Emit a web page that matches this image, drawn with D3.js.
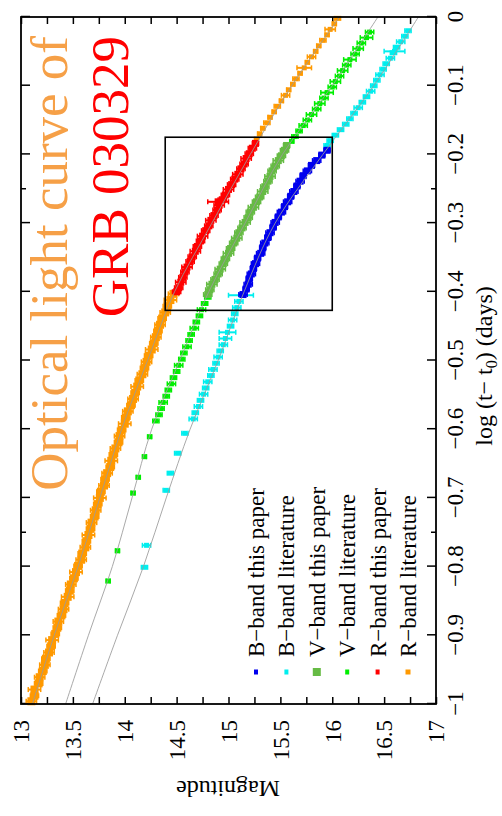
<!DOCTYPE html>
<html>
<head>
<meta charset="utf-8">
<script src="https://cdn.jsdelivr.net/npm/d3@7"></script>
<style>
  body { margin: 0; background: #fff; }
  svg { display: block; }
</style>
</head>
<body>
<svg id="chart" width="502" height="816"></svg>
<script>
// Afterglow photometry of GRB 030329: [log(t - t0) in days, magnitude, magnitude error]
const bPaper = [[-0.194,15.95,0.03],[-0.201,15.90,0.03],[-0.209,15.85,0.04],[-0.216,15.80,0.03],[-0.224,15.76,0.04],[-0.231,15.72,0.03],[-0.239,15.69,0.04],[-0.246,15.66,0.03],[-0.254,15.63,0.04],[-0.261,15.60,0.03],[-0.269,15.57,0.04],[-0.276,15.54,0.03],[-0.284,15.51,0.04],[-0.291,15.48,0.03],[-0.299,15.45,0.04],[-0.306,15.43,0.03],[-0.314,15.40,0.04],[-0.321,15.38,0.03],[-0.329,15.35,0.04],[-0.336,15.33,0.03],[-0.344,15.31,0.04],[-0.351,15.28,0.03],[-0.359,15.26,0.04],[-0.366,15.24,0.03],[-0.374,15.22,0.04],[-0.381,15.20,0.03],[-0.389,15.19,0.04],[-0.396,15.17,0.03],[-0.404,15.14,0.04]];

const bLit = [[-0.020,16.73,0.03],[-0.028,16.70,0.03],[-0.036,16.66,0.04],[-0.044,16.62,0.03],[-0.050,16.60,0.10],[-0.052,16.59,0.03],[-0.060,16.56,0.04],[-0.068,16.52,0.03],[-0.076,16.49,0.03],[-0.084,16.46,0.04],[-0.092,16.43,0.03],[-0.100,16.40,0.03],[-0.108,16.37,0.04],[-0.116,16.33,0.03],[-0.124,16.29,0.03],[-0.132,16.25,0.04],[-0.140,16.21,0.03],[-0.148,16.17,0.03],[-0.156,16.13,0.03],[-0.164,16.08,0.03],[-0.172,16.03,0.03],[-0.180,15.98,0.03],[-0.187,15.95,0.03],
  [-0.405,15.12,0.12],[-0.414,15.10,0.04],[-0.423,15.08,0.04],[-0.432,15.06,0.03],[-0.441,15.04,0.04],[-0.450,15.02,0.03],[-0.459,14.99,0.08],[-0.468,14.97,0.06],[-0.477,14.95,0.04],[-0.486,14.92,0.03],[-0.495,14.90,0.04],[-0.504,14.88,0.03],[-0.513,14.85,0.04],[-0.522,14.83,0.03],[-0.531,14.80,0.04],[-0.540,14.78,0.03],[-0.549,14.76,0.04],[-0.558,14.73,0.03],[-0.567,14.71,0.04],[-0.576,14.68,0.03],[-0.585,14.66,0.04],[-0.606,14.58,0.03],[-0.635,14.51,0.03],[-0.664,14.44,0.03],[-0.689,14.40,0.03],[-0.769,14.21,0.04],[-0.801,14.19,0.03]];

const vPaper = [[-0.187,15.56,0.03],[-0.194,15.54,0.04],[-0.202,15.51,0.04],[-0.209,15.48,0.05],[-0.217,15.45,0.04],[-0.224,15.42,0.04],[-0.232,15.40,0.05],[-0.239,15.38,0.04],[-0.247,15.35,0.04],[-0.254,15.33,0.05],[-0.262,15.30,0.04],[-0.269,15.27,0.04],[-0.277,15.24,0.05],[-0.284,15.21,0.04],[-0.292,15.19,0.04],[-0.299,15.16,0.05],[-0.307,15.13,0.04],[-0.314,15.10,0.04],[-0.322,15.08,0.05],[-0.329,15.05,0.04],[-0.337,15.02,0.04],[-0.344,15.00,0.05],[-0.352,14.97,0.04],[-0.359,14.95,0.04],[-0.367,14.92,0.05],[-0.374,14.90,0.04],[-0.382,14.87,0.04],[-0.389,14.84,0.05],[-0.397,14.82,0.04],[-0.404,14.80,0.04]];

const vLit = [[-0.022,16.36,0.04],[-0.030,16.33,0.06],[-0.038,16.28,0.04],[-0.046,16.25,0.05],[-0.054,16.22,0.04],[-0.062,16.17,0.06],[-0.070,16.14,0.04],[-0.078,16.10,0.05],[-0.086,16.07,0.04],[-0.094,16.03,0.05],[-0.102,16.00,0.04],[-0.110,15.95,0.06],[-0.118,15.92,0.04],[-0.126,15.88,0.05],[-0.134,15.85,0.04],[-0.142,15.80,0.05],[-0.150,15.76,0.04],[-0.158,15.72,0.04],[-0.166,15.68,0.03],[-0.174,15.64,0.03],[-0.181,15.61,0.02],
  [-0.408,14.80,0.03],[-0.417,14.77,0.03],[-0.426,14.74,0.04],[-0.435,14.72,0.03],[-0.444,14.69,0.03],[-0.453,14.67,0.04],[-0.462,14.64,0.03],[-0.471,14.62,0.03],[-0.480,14.60,0.04],[-0.489,14.57,0.03],[-0.498,14.55,0.03],[-0.507,14.52,0.04],[-0.516,14.50,0.03],[-0.525,14.47,0.03],[-0.534,14.45,0.04],[-0.543,14.42,0.03],[-0.552,14.40,0.03],[-0.561,14.37,0.04],[-0.570,14.35,0.03],[-0.579,14.33,0.03],[-0.588,14.30,0.03],[-0.611,14.24,0.02],[-0.640,14.19,0.02],[-0.670,14.13,0.02],[-0.693,14.08,0.02],[-0.777,13.93,0.02],[-0.821,13.84,0.02]];

const rPaper = [[-0.184,15.26,0.03],[-0.191,15.23,0.04],[-0.199,15.20,0.04],[-0.206,15.17,0.05],[-0.214,15.15,0.04],[-0.221,15.12,0.04],[-0.229,15.09,0.05],[-0.236,15.06,0.04],[-0.244,15.03,0.04],[-0.251,15.00,0.05],[-0.259,14.97,0.04],[-0.266,14.94,0.04],[-0.269,14.90,0.10],[-0.274,14.91,0.05],[-0.281,14.89,0.04],[-0.289,14.86,0.04],[-0.296,14.83,0.05],[-0.304,14.81,0.04],[-0.311,14.78,0.04],[-0.319,14.75,0.05],[-0.326,14.73,0.04],[-0.334,14.70,0.04],[-0.341,14.68,0.05],[-0.349,14.65,0.04],[-0.356,14.63,0.04],[-0.364,14.60,0.05],[-0.371,14.58,0.04],[-0.379,14.56,0.04],[-0.386,14.54,0.05],[-0.394,14.52,0.04],[-0.400,14.50,0.04]];

// R-band literature, early (sparse) and late (dense) parts
const rLitEarly = [[-0.002,16.05,0.03],[-0.010,16.02,0.02],[-0.018,15.98,0.05],[-0.026,15.95,0.02],[-0.034,15.91,0.03],[-0.042,15.87,0.02],[-0.050,15.84,0.02],[-0.058,15.80,0.04],[-0.066,15.76,0.02],[-0.074,15.73,0.07],[-0.082,15.69,0.02],[-0.090,15.65,0.03],[-0.098,15.62,0.02],[-0.106,15.58,0.02],[-0.114,15.55,0.04],[-0.122,15.51,0.02],[-0.130,15.47,0.03],[-0.138,15.44,0.02],[-0.146,15.40,0.02],[-0.154,15.37,0.03],[-0.162,15.33,0.02],[-0.170,15.30,0.02],[-0.178,15.27,0.02]];
const rLitLate = [[-0.996,13.10,0.05],[-0.988,13.13,0.04],[-0.979,13.13,0.06],[-0.970,13.17,0.04],[-0.961,13.18,0.05],[-0.952,13.21,0.04],[-0.943,13.23,0.05],[-0.934,13.24,0.04],[-0.925,13.27,0.05],[-0.916,13.29,0.04],[-0.907,13.30,0.06],[-0.898,13.33,0.04],[-0.889,13.35,0.04],[-0.880,13.36,0.05],[-0.871,13.39,0.04],[-0.862,13.41,0.05],[-0.853,13.42,0.04],[-0.844,13.45,0.06],[-0.835,13.47,0.04],[-0.826,13.48,0.05],[-0.817,13.51,0.04],[-0.808,13.53,0.06],[-0.799,13.55,0.04],[-0.790,13.58,0.05],[-0.781,13.59,0.04],[-0.772,13.62,0.05],[-0.763,13.63,0.04],[-0.754,13.65,0.06],[-0.745,13.67,0.04],[-0.736,13.68,0.05],[-0.727,13.71,0.04],[-0.718,13.72,0.05],[-0.709,13.74,0.04],[-0.700,13.76,0.06],[-0.691,13.77,0.04],[-0.682,13.80,0.05],[-0.673,13.81,0.04],[-0.664,13.83,0.05],[-0.655,13.86,0.04],[-0.646,13.87,0.06],[-0.637,13.89,0.04],[-0.628,13.91,0.05],[-0.619,13.94,0.04],[-0.610,13.95,0.05],[-0.601,13.97,0.04],[-0.592,14.00,0.06],[-0.583,14.01,0.04],[-0.574,14.03,0.05],[-0.565,14.06,0.04],[-0.556,14.08,0.05],[-0.547,14.10,0.04],[-0.538,14.12,0.06],[-0.529,14.14,0.04],[-0.520,14.17,0.05],[-0.511,14.19,0.04],[-0.502,14.21,0.05],[-0.493,14.23,0.04],[-0.484,14.26,0.06],[-0.475,14.28,0.04],[-0.466,14.30,0.05],[-0.457,14.32,0.04],[-0.448,14.34,0.05],[-0.439,14.36,0.04],[-0.430,14.39,0.05],[-0.421,14.41,0.04],[-0.412,14.44,0.06],[-0.403,14.47,0.05]];

// Power-law fits, one per band: [log(t - t0), magnitude]
const fitB = [[-1,13.69],[-0.9,13.93],[-0.8,14.18],[-0.7,14.40],[-0.6,14.63],[-0.5,14.90],[-0.4,15.15],[-0.3,15.45],[-0.2,15.91],[-0.1,16.40],[0,16.83]];
const fitV = [[-1,13.43],[-0.9,13.65],[-0.8,13.88],[-0.7,14.07],[-0.6,14.26],[-0.5,14.53],[-0.4,14.81],[-0.3,15.16],[-0.2,15.52],[-0.1,16.00],[0,16.44]];
const fitR = [[-1,13.11],[-0.9,13.32],[-0.8,13.55],[-0.7,13.76],[-0.6,13.97],[-0.5,14.22],[-0.4,14.48],[-0.3,14.84],[-0.2,15.21],[-0.1,15.61],[0,16.07]];

// Window covered by the new observations
const zoomLog = [-0.427, -0.175];
const zoomMag = [14.39, 16.0];

const logTicks = [0,-0.1,-0.2,-0.3,-0.4,-0.5,-0.6,-0.7,-0.8,-0.9,-1];
const logMinorTicks = [-0.25,-0.75];
const magTicks = [13,13.25,13.5,13.75,14,14.25,14.5,14.75,15,15.25,15.5,15.75,16,16.25,16.5,16.75,17];

const legendLabels = ["B\u2212band this paper","B\u2212band literature","V\u2212band this paper","V\u2212band literature","R\u2212band this paper","R\u2212band literature"];
const titleLines = ["Optical light curve of","GRB 030329"];

// ---------------------------------------------------------------
const SERIF = "'Liberation Serif','Times New Roman',Times,serif";
const W = 816; // width of the unrotated figure; the page shows it turned a quarter turn
const svg = d3.select("#chart");
const g = svg.append("g").attr("transform", `translate(0,${W}) rotate(-90)`);

const x = d3.scaleLinear().domain([-1, 0]).range([112, 799]);
const y = d3.scaleLinear().domain([13, 17]).range([21, 436]);

function styleAxis(sel) {
  sel.select(".domain").remove();
  sel.selectAll(".tick line").attr("stroke", "#000").attr("stroke-width", 1.5);
  sel.selectAll("text").attr("fill", "#000").style("font-family", SERIF).style("font-size", "23px");
}

// bottom axis: log time
const axB = g.append("g").attr("transform", "translate(0,436)")
  .call(d3.axisBottom(x).tickValues(logTicks).tickSizeInner(-9).tickSizeOuter(0).tickFormat(d3.format("~g")));
styleAxis(axB);
axB.selectAll("text").attr("y", 27).attr("dy", null);

const axT = g.append("g").attr("transform", "translate(0,21)")
  .call(d3.axisTop(x).tickValues(logTicks).tickSizeInner(-9).tickSizeOuter(0).tickFormat(""));
styleAxis(axT);

// minor log ticks on both edges
g.append("g").selectAll("line").data(logMinorTicks).join("line")
  .attr("x1", d => x(d)).attr("x2", d => x(d)).attr("y1", 436).attr("y2", 431)
  .attr("stroke", "#000").attr("stroke-width", 1.5);
g.append("g").selectAll("line").data(logMinorTicks).join("line")
  .attr("x1", d => x(d)).attr("x2", d => x(d)).attr("y1", 21).attr("y2", 26)
  .attr("stroke", "#000").attr("stroke-width", 1.5);

// left axis: magnitude
const axL = g.append("g").attr("transform", "translate(112,0)")
  .call(d3.axisLeft(y).tickValues(magTicks).tickSizeInner(-7).tickSizeOuter(0)
    .tickFormat(d => (Math.abs(d * 2 - Math.round(d * 2)) < 1e-9 ? d3.format("~g")(d) : "")));
styleAxis(axL);
axL.selectAll("text").attr("x", -16).attr("dy", "0.34em");

const axR = g.append("g").attr("transform", "translate(799,0)")
  .call(d3.axisRight(y).tickValues(magTicks).tickSizeInner(-7).tickSizeOuter(0).tickFormat(""));
styleAxis(axR);

// data points with magnitude error bars
function drawSeries(data, color, size) {
  const s = g.append("g");
  s.selectAll("line.bar").data(data).join("line").attr("class", "bar")
    .attr("x1", d => x(d[0])).attr("x2", d => x(d[0]))
    .attr("y1", d => y(d[1] - d[2])).attr("y2", d => y(d[1] + d[2]))
    .attr("stroke", color).attr("stroke-width", 2);
  s.selectAll("line.capLo").data(data).join("line").attr("class", "capLo")
    .attr("x1", d => x(d[0]) - 2.5).attr("x2", d => x(d[0]) + 2.5)
    .attr("y1", d => y(d[1] - d[2])).attr("y2", d => y(d[1] - d[2]))
    .attr("stroke", color).attr("stroke-width", 1.5);
  s.selectAll("line.capHi").data(data).join("line").attr("class", "capHi")
    .attr("x1", d => x(d[0]) - 2.5).attr("x2", d => x(d[0]) + 2.5)
    .attr("y1", d => y(d[1] + d[2])).attr("y2", d => y(d[1] + d[2]))
    .attr("stroke", color).attr("stroke-width", 1.5);
  s.selectAll("rect").data(data).join("rect")
    .attr("x", d => x(d[0]) - size / 2).attr("y", d => y(d[1]) - size / 2)
    .attr("width", size).attr("height", size).attr("fill", color);
}

const colors = {
  bPaper: "#0000ee", bLit: "#00eeee",
  vPaper: "#66bb44", vLit: "#00ee00",
  rPaper: "#ff0000", rLit: "#ff9900"
};

drawSeries(bLit, colors.bLit, 5);
drawSeries(vLit, colors.vLit, 5);
drawSeries(rLitEarly, colors.rLit, 5);
drawSeries(rLitLate, colors.rLit, 8);
drawSeries(bPaper, colors.bPaper, 7);
drawSeries(vPaper, colors.vPaper, 7);
drawSeries(rPaper, colors.rPaper, 7);

// fitted curves
const line = d3.line().x(d => x(d[0])).y(d => y(d[1])).curve(d3.curveCatmullRom);
[fitB, fitV, fitR].forEach(f => {
  g.append("path").datum(f).attr("d", line)
    .attr("fill", "none").attr("stroke", "#9a9a9a").attr("stroke-width", 1).attr("stroke-opacity", 0.85);
});

// box around the new observations
g.append("rect")
  .attr("x", x(zoomLog[0])).attr("y", y(zoomMag[0]))
  .attr("width", x(zoomLog[1]) - x(zoomLog[0])).attr("height", y(zoomMag[1]) - y(zoomMag[0]))
  .attr("fill", "none").attr("stroke", "#000").attr("stroke-width", 1.6);

// plot frame
g.append("rect").attr("x", 112).attr("y", 21).attr("width", 687).attr("height", 415)
  .attr("fill", "none").attr("stroke", "#000").attr("stroke-width", 1.8);

// axis titles
const xl = g.append("text").attr("x", 450).attr("y", 492).attr("text-anchor", "middle")
  .style("font-family", SERIF).style("font-size", "24px").attr("fill", "#000");
xl.append("tspan").text("log (t\u2212 t");
xl.append("tspan").text("0").style("font-size", "16px").attr("dy", 5);
xl.append("tspan").text(") (days)").attr("dy", -5);

g.append("text").attr("transform", "translate(35,228) rotate(-90)").attr("text-anchor", "middle")
  .style("font-family", SERIF).style("font-size", "24px").attr("fill", "#000").text("Magnitude");

// legend
const legendColors = [colors.bPaper, colors.bLit, colors.vPaper, colors.vLit, colors.rPaper, colors.rLit];
const legendSizes = [[5, 4], [5, 4], [8, 8], [5, 4], [5, 4], [5, 5]];
const lg = g.append("g");
legendLabels.forEach((lab, i) => {
  const cy = 256 + 30.4 * i;
  const [w, h] = legendSizes[i];
  lg.append("rect").attr("x", 144 - w / 2).attr("y", cy - h / 2).attr("width", w).attr("height", h)
    .attr("fill", legendColors[i]);
  lg.append("text").attr("x", 159).attr("y", cy + 8)
    .style("font-family", SERIF).style("font-size", "23px").attr("fill", "#000").text(lab);
});

// title
const titleColors = ["#f6a047", "#ff0000"];
titleLines.forEach((t, i) => {
  g.append("text").attr("x", 780).attr("y", [67, 128][i]).attr("text-anchor", "end")
    .style("font-family", SERIF).style("font-size", "53px").attr("fill", titleColors[i]).text(t);
});
</script>
</body>
</html>
